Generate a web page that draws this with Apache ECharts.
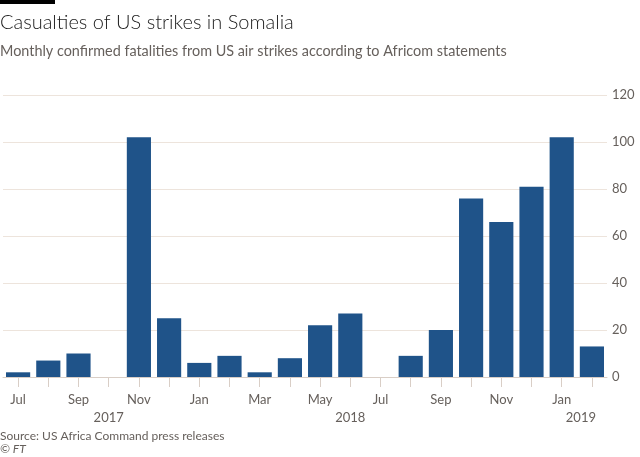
<!DOCTYPE html>
<html lang="en" style="height: 100%">
<head>
    <meta charset="UTF-8">
    <title>Casualties of US strikes in Somalia</title>
    <script src="https://cdn.jsdelivr.net/npm/echarts@6/dist/echarts.min.js"></script>
    <style>
        html, body { margin: 0; padding: 0; background: #fff; }
    </style>
</head>
<body style="height: 100%">
<div id="main" style="width: 640px; height: 457px"></div>
<script>
    // Jul 2017 .. Feb 2019
    var months = ['Jul', 'Aug', 'Sep', 'Oct', 'Nov', 'Dec',
                  'Jan', 'Feb', 'Mar', 'Apr', 'May', 'Jun',
                  'Jul', 'Aug', 'Sep', 'Oct', 'Nov', 'Dec',
                  'Jan', 'Feb'];
    var fatalities = [2, 7, 10, 0, 102, 25, 6, 9, 2, 8, 22, 27,
                      0, 9, 20, 76, 66, 81, 102, 13];
    // year label shown under the given month index
    var yearLabels = {3: '2017', 11: '2018', 19: '2019'};
    var yTicks = [0, 20, 40, 60, 80, 100, 120];

    var font = 'Lato, "Noto Sans", sans-serif';

    var myoption = {
        animation: false,
        backgroundColor: '#ffffff',
        textStyle: {fontFamily: font},
        graphic: [
            {type: 'rect', left: 0, top: 0, shape: {width: 55, height: 4}, style: {fill: '#000'}},
            {type: 'text', left: 0, top: 13, style: {text: 'Casualties of US strikes in Somalia',
                fontSize: 20, fontFamily: font, fill: '#1a1a1a', fontWeight: 300}},
            {type: 'text', left: 0, top: 44, style: {text: 'Monthly confirmed fatalities from US air strikes according to Africom statements',
                fontSize: 14.4, fontFamily: font, fill: '#66605c'}},
            {type: 'text', left: 0, top: 430, style: {text: 'Source: US Africa Command press releases',
                fontSize: 12, fontFamily: font, fill: '#66605c'}},
            {type: 'text', left: 0, top: 443, style: {text: '© FT',
                fontSize: 12, fontFamily: font, fill: '#66605c', fontStyle: 'italic'}}
        ],
        grid: {left: 3, right: 33, top: 95, bottom: 80, containLabel: false},
        xAxis: [
            {
                type: 'category',
                data: months,
                axisLine: {show: true, lineStyle: {color: '#d9cec6', width: 1}},
                axisTick: {show: true, alignWithLabel: true, interval: 0, length: 10,
                    lineStyle: {color: '#d9cec6'}},
                axisLabel: {interval: 1, color: '#66605c', fontSize: 13, margin: 16, fontFamily: font}
            },
            {
                type: 'category',
                data: months,
                position: 'bottom',
                offset: 18,
                axisLine: {show: false},
                axisTick: {show: false},
                axisLabel: {
                    interval: 0,
                    color: '#66605c',
                    fontSize: 13,
                    margin: 16,
                    fontFamily: font,
                    formatter: function (v, i) {
                        if (i === 19) return '{r|' + yearLabels[i] + '}';
                        return yearLabels[i] || '';
                    },
                    rich: {r: {padding: [0, 22, 0, 0], color: '#66605c', fontSize: 13, fontFamily: font}}
                }
            }
        ],
        yAxis: {
            type: 'value',
            position: 'right',
            min: yTicks[0],
            max: yTicks[yTicks.length - 1],
            interval: 20,
            axisLine: {show: false},
            axisTick: {show: false},
            axisLabel: {color: '#66605c', fontSize: 13, margin: 5, fontFamily: font},
            splitLine: {lineStyle: {color: '#ede4dc', width: 1}}
        },
        series: [
            {
                name: 'Fatalities',
                type: 'bar',
                data: fatalities,
                barCategoryGap: '20%',
                itemStyle: {color: '#1f5389'}
            }
        ]
    };
    var myChart = echarts.init(document.getElementById('main'));
    myChart.setOption(myoption);
</script>
</body>
</html>
